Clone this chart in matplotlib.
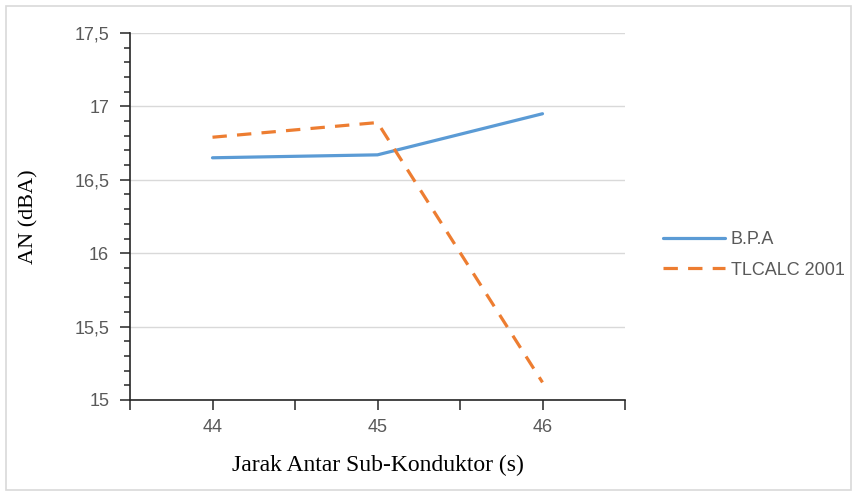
import matplotlib
matplotlib.use("Agg")
import matplotlib.pyplot as plt
from matplotlib.ticker import FuncFormatter, MultipleLocator
from matplotlib.patches import Rectangle

# data
jarak = [44, 45, 46]
bpa = [16.65, 16.67, 16.95]
tlcalc = [16.79, 16.89, 15.12]
series_names = ["B.P.A", "TLCALC 2001"]

fig = plt.figure(figsize=(8.57, 4.96), dpi=100)
ax = fig.add_axes([130 / 857, 1 - 400 / 496, 495 / 857, 367 / 496])

# light grey chart-area border
fig.patches.append(Rectangle((6 / 857, 6 / 496), 845 / 857, 484 / 496,
                             transform=fig.transFigure, fill=False,
                             edgecolor="#d9d9d9", linewidth=1.2))

ax.plot(jarak, bpa, color="#5B9BD5", lw=2.3, label=series_names[0],
        solid_capstyle="round")
ax.plot(jarak, tlcalc, color="#ED7D31", lw=2.3, label=series_names[1],
        dashes=(4.5, 3.2))

ax.set_xlim(43.5, 46.5)
ax.set_ylim(15, 17.5)
ax.set_xticks(jarak)
ax.xaxis.set_minor_locator(MultipleLocator(0.5))
ax.yaxis.set_major_locator(MultipleLocator(0.5))
ax.yaxis.set_minor_locator(MultipleLocator(0.1))
ax.yaxis.set_major_formatter(FuncFormatter(
    lambda v, p: (f"{v:g}").replace(".", ",")))

ax.grid(axis="y", which="major", color="#d9d9d9", lw=1)
ax.set_axisbelow(True)
for s in ["top", "right"]:
    ax.spines[s].set_visible(False)
for s in ["left", "bottom"]:
    ax.spines[s].set_color("#262626")
    ax.spines[s].set_linewidth(1.2)

ax.tick_params(axis="both", which="both", direction="out", color="#262626",
               labelcolor="#595959", labelsize=13, width=1.1)
ax.tick_params(axis="y", which="major", length=7, pad=8)
ax.tick_params(axis="y", which="minor", length=4)
ax.tick_params(axis="x", which="major", length=7, pad=7)
ax.tick_params(axis="x", which="minor", length=7)
for lab in ax.get_xticklabels() + ax.get_yticklabels():
    lab.set_family("Liberation Sans")

ax.set_xlabel("Jarak Antar Sub-Konduktor (s)", family="Liberation Serif",
              fontsize=17, labelpad=13)
ax.set_ylabel("AN (dBA)", family="Liberation Serif", fontsize=16, labelpad=26)

leg = fig.legend(loc="upper left", bbox_to_anchor=(647 / 857, 1 - 215 / 496),
                 frameon=False, handlelength=3.4, handletextpad=0.35,
                 labelspacing=0.75,
                 prop={"family": "Liberation Sans", "size": 13})
for t in leg.get_texts():
    t.set_color("#595959")

fig.savefig("out.png", dpi=100)
